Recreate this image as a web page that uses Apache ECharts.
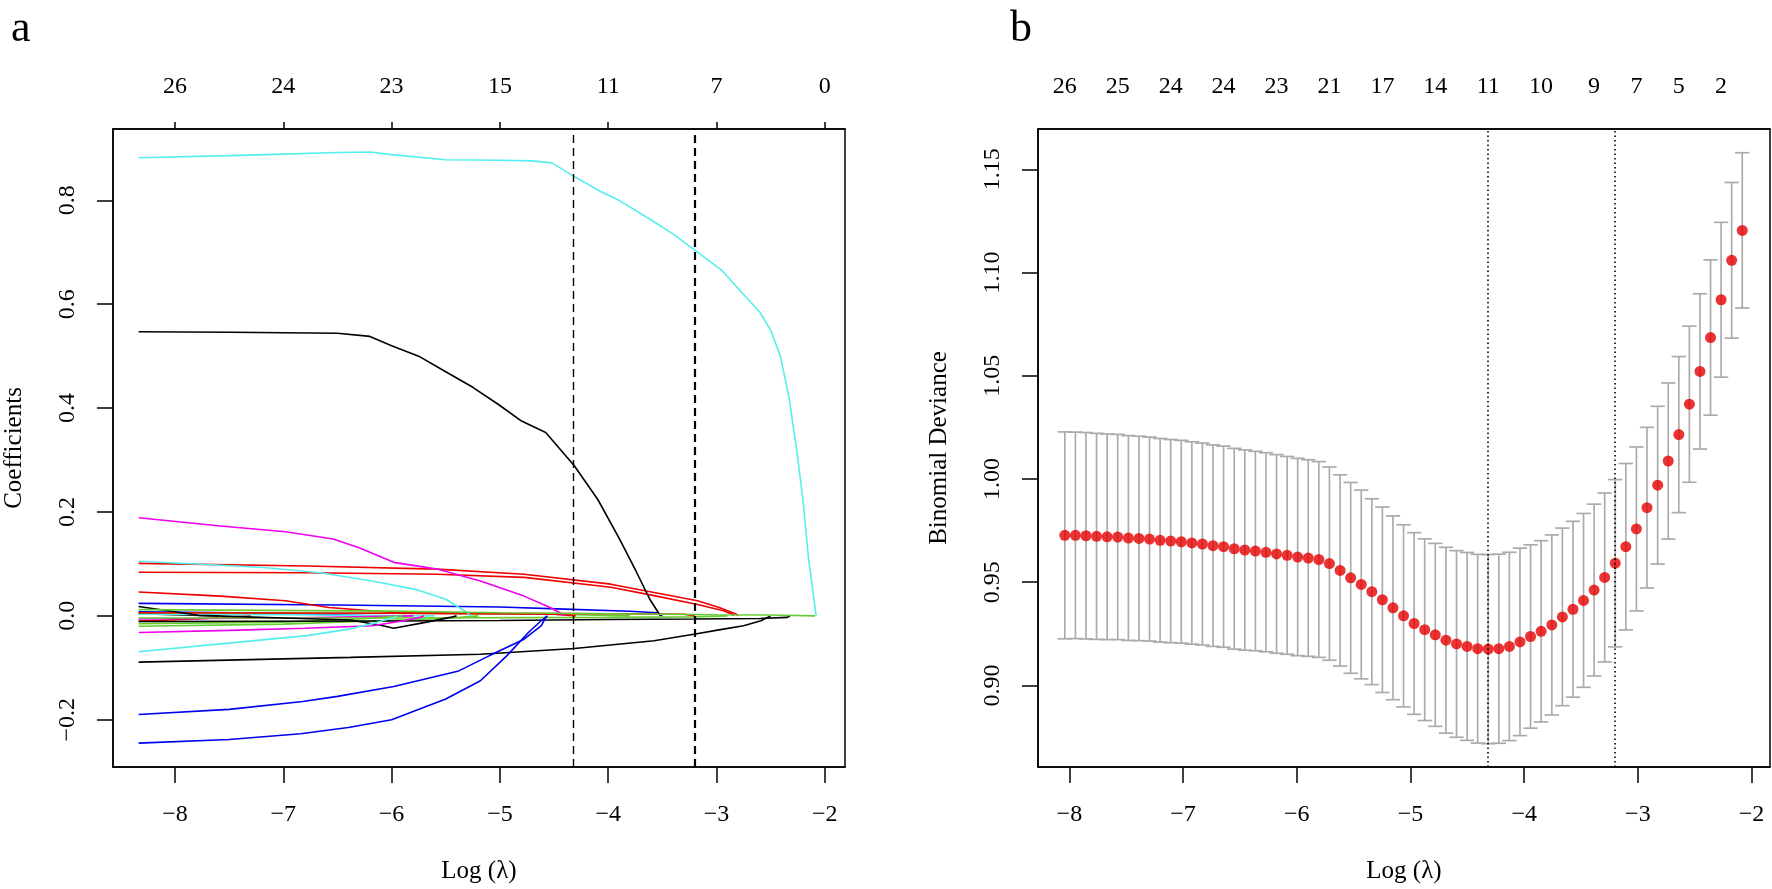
<!DOCTYPE html>
<html><head><meta charset="utf-8">
<script src="https://cdn.jsdelivr.net/npm/echarts@6/dist/echarts.min.js"></script>
<style>html,body{margin:0;padding:0;background:#fff}#c{width:1772px;height:889px}</style>
</head><body><div id="c"></div>
<script>
// ---------- Panel a: LASSO coefficient paths, points are [log(lambda), coefficient] ----------
const pathCyanTop = [[-8.336,0.882],[-7.5,0.886],[-7,0.889],[-6.5,0.892],[-6.2,0.893],[-6,0.888],[-5.5,0.878],[-5,0.877],[-4.7,0.876],[-4.52,0.872],[-4.316,0.846],[-4.07,0.817],[-3.9,0.80],[-3.61,0.763],[-3.4,0.735],[-3.2,0.704],[-2.95,0.665],[-2.72,0.612],[-2.6,0.585],[-2.5,0.55],[-2.41,0.50],[-2.33,0.42],[-2.26,0.32],[-2.2,0.22],[-2.15,0.11],[-2.08,0]];
const pathBlackBig = [[-8.336,0.547],[-7.5,0.546],[-7,0.545],[-6.5,0.544],[-6.2,0.538],[-6,0.52],[-5.75,0.50],[-5.5,0.47],[-5.25,0.44],[-5,0.405],[-4.8,0.375],[-4.577,0.353],[-4.313,0.289],[-4.096,0.224],[-3.896,0.148],[-3.736,0.083],[-3.616,0.032],[-3.536,0.006],[-3.52,0]];
const pathMagentaTop = [[-8.336,0.189],[-7.58,0.173],[-6.98,0.162],[-6.54,0.148],[-6.3,0.131],[-5.98,0.103],[-5.58,0.090],[-5.18,0.067],[-4.777,0.038],[-4.537,0.016],[-4.42,0.003],[-4.4,0]];
const pathCyan2 = [[-8.336,0.105],[-7.62,0.098],[-7.18,0.093],[-6.66,0.083],[-6.18,0.067],[-5.78,0.051],[-5.5,0.032],[-5.3,0.006],[-5.27,0]];
const pathRed1 = [[-8.336,0.101],[-6.78,0.096],[-5.58,0.090],[-4.777,0.080],[-3.976,0.061],[-3.576,0.045],[-3.175,0.029],[-2.975,0.016],[-2.815,0.003],[-2.8,0]];
const pathRed2 = [[-8.336,0.084],[-6.78,0.083],[-5.58,0.080],[-4.777,0.074],[-3.976,0.055],[-3.576,0.039],[-3.175,0.022],[-2.935,0.010],[-2.855,0.003],[-2.84,0]];
const pathRed3 = [[-8.336,0.046],[-7.58,0.038],[-6.98,0.029],[-6.58,0.016],[-5.98,0.0064],[-5,0.005],[-4,0.004],[-3.3,0.003],[-3.2,0]];
const pathBlue3 = [[-8.336,0.024],[-6.5,0.021],[-5,0.017],[-4.4,0.013],[-3.8,0.009],[-3.55,0.006],[-3.5,0]];
const pathBlackDip = [[-8.336,0.018],[-7.78,0.001],[-7,-0.004],[-6.38,-0.008],[-6.1,-0.018],[-5.98,-0.024],[-5.7,-0.013],[-5.46,-0.003],[-5.4,0]];
const pathBlackFlat = [[-8.336,-0.011],[-6,-0.010],[-5,-0.009],[-4,-0.007],[-3.2,-0.006],[-2.6,-0.005],[-2.35,-0.003],[-2.32,0]];
const pathMagentaLow = [[-8.336,-0.032],[-7.5,-0.028],[-6.8,-0.024],[-6.18,-0.019],[-5.9,-0.01],[-5.74,-0.003],[-5.7,0]];
const pathCyanLow = [[-8.336,-0.069],[-7.58,-0.054],[-6.78,-0.038],[-6.38,-0.025],[-6.14,-0.013],[-5.98,-0.003],[-5.95,0]];
const pathBlackLong = [[-8.336,-0.089],[-6.38,-0.080],[-5.18,-0.074],[-4.313,-0.063],[-3.576,-0.048],[-3.196,-0.035],[-2.95,-0.026],[-2.75,-0.019],[-2.59,-0.0096],[-2.5,0]];
const pathBlue1 = [[-8.336,-0.190],[-7.5,-0.180],[-6.82,-0.165],[-6.5,-0.155],[-5.98,-0.136],[-5.38,-0.106],[-5.1,-0.077],[-4.777,-0.045],[-4.617,-0.019],[-4.577,-0.003],[-4.57,0]];
const pathBlue2 = [[-8.336,-0.245],[-7.5,-0.238],[-6.84,-0.227],[-6.4,-0.215],[-6,-0.200],[-5.5,-0.160],[-5.18,-0.125],[-4.937,-0.077],[-4.737,-0.032],[-4.617,-0.009],[-4.56,0]];
const pathGreen1 = [[-8.336,0.012],[-6,0.009],[-5,0.006],[-4,0.004],[-3,0.002],[-2.5,0.0015],[-2.09,0]];
const pathGreen6 = [[-8.336,-0.004],[-6,-0.004],[-4,-0.003],[-3.2,-0.002],[-2.9,0]];
const pathGreen2 = [[-8.336,-0.020],[-7,-0.016],[-6.5,-0.012],[-5.5,-0.005],[-5.2,0]];
const pathGreen3 = [[-8.336,-0.015],[-7,-0.012],[-6.3,-0.006],[-5.9,0]];
const pathGreen4 = [[-8.336,0.006],[-6,0.005],[-4.5,0.003],[-3.8,0]];
const pathBlue4 = [[-8.336,0.008],[-7,0.005],[-6.2,0]];
const pathRed4 = [[-8.336,0.006],[-6,0.005],[-4.5,0.003],[-4.3,0]];
const pathRed5 = [[-8.336,-0.010],[-7.8,-0.006],[-7.3,0]];
const pathMagenta3 = [[-8.336,-0.006],[-7,-0.004],[-5.8,0]];
const pathCyan3 = [[-8.336,0.003],[-7,0.002],[-5.6,0]];
const pathBlack5 = [[-8.336,0.004],[-7.6,0]];

const coefPaths = [pathRed5, pathBlack5, pathBlue4, pathCyan3, pathMagenta3, pathGreen3, pathGreen2, pathGreen4, pathRed4, pathGreen6,
  pathBlackFlat, pathBlackDip, pathMagentaLow, pathCyanLow, pathBlue3, pathRed3, pathRed2, pathRed1, pathCyan2, pathMagentaTop,
  pathBlackLong, pathBlue1, pathBlue2, pathBlackBig, pathGreen1, pathCyanTop];
const coefColors = ['#EE0000','#000000','#0000EE','#55EEEE','#EE00EE','#66CC33','#66CC33','#66CC33','#EE0000','#66CC33',
  '#000000','#000000','#EE00EE','#55EEEE','#0000EE','#EE0000','#EE0000','#EE0000','#55EEEE','#EE00EE',
  '#000000','#0000EE','#0000EE','#000000','#66CC33','#55EEEE'];

const axisTicksA = [-8,-7,-6,-5,-4,-3,-2];
const topLabelsA = ['26','24','23','15','11','7','0'];
const yTicksA = [-0.2,0,0.2,0.4,0.6,0.8];

// ---------- Panel b: cross-validation curve ----------
const cvLogLambda = [-8.040,-7.947,-7.854,-7.761,-7.668,-7.575,-7.481,-7.388,-7.295,-7.202,
 -7.109,-7.016,-6.923,-6.830,-6.737,-6.644,-6.550,-6.457,-6.364,-6.271,
 -6.178,-6.085,-5.992,-5.899,-5.806,-5.713,-5.619,-5.526,-5.433,-5.340,
 -5.247,-5.154,-5.061,-4.968,-4.875,-4.782,-4.688,-4.595,-4.502,-4.409,
 -4.316,-4.223,-4.130,-4.037,-3.944,-3.851,-3.757,-3.664,-3.571,-3.478,
 -3.385,-3.292,-3.199,-3.106,-3.013,-2.920,-2.826,-2.733,-2.640,-2.547,
 -2.454,-2.361,-2.268,-2.175,-2.082];
const cvDeviance = [0.9727,0.9727,0.9725,0.9722,0.9720,0.9719,0.9714,0.9712,0.9709,0.9703,
 0.9699,0.9696,0.9690,0.9685,0.9677,0.9672,0.9662,0.9656,0.9651,0.9645,
 0.9637,0.9630,0.9622,0.9617,0.9610,0.9590,0.9557,0.9521,0.9489,0.9454,
 0.9415,0.9376,0.9337,0.9300,0.9270,0.9245,0.9219,0.9201,0.9189,0.9178,
 0.9176,0.9178,0.9189,0.9211,0.9237,0.9262,0.9293,0.9332,0.9369,0.9412,
 0.9462,0.9523,0.9592,0.9672,0.9758,0.9861,0.9970,1.0087,1.0215,1.0362,
 1.0521,1.0685,1.0868,1.1059,1.1204];
const cvSE = [0.0501,0.0500,0.0500,0.0499,0.0498,0.0497,0.0496,0.0495,0.0494,0.0493,
 0.0492,0.0491,0.0490,0.0489,0.0488,0.0487,0.0486,0.0485,0.0483,0.0482,
 0.0481,0.0479,0.0478,0.0476,0.0474,0.0468,0.0463,0.0462,0.0457,0.0450,
 0.0449,0.0445,0.0441,0.0440,0.0440,0.0443,0.0450,0.0452,0.0455,0.0457,
 0.0458,0.0458,0.0456,0.0454,0.0444,0.0439,0.0436,0.0430,0.0426,0.0421,
 0.0416,0.0409,0.0405,0.0403,0.0397,0.0389,0.0382,0.0378,0.0378,0.0378,
 0.0376,0.0376,0.0375,0.0377,0.0376];
const topLabelIdxB = [0,5,10,15,20,25,30,35,40,45,50,54,58,62];
const topLabelsB = ['26','25','24','24','23','21','17','14','11','10','9','7','5','2'];
const axisTicksB = [-8,-7,-6,-5,-4,-3,-2];
const yTicksB = [0.90,0.95,1.00,1.05,1.10,1.15];
const idxLambdaMin = 40, idx1se = 52;

// ---------- chart ----------
const FONT = 'Liberation Serif';
const minus = s => String(s).replace('-', '\u2212');
const tickFont = {fontFamily: FONT, fontSize: 24, color: '#000'};
const chart = echarts.init(document.getElementById('c'), null, {renderer: 'canvas'});
const lamMin = cvLogLambda[idxLambdaMin], lam1se = cvLogLambda[idx1se];
const topValsB = topLabelIdxB.map(i => cvLogLambda[i]);
const capHalf = 0.063;

function nearestLabel(v, vals, labels) {
  let best = 0, bd = Infinity;
  vals.forEach((x, i) => { const d = Math.abs(x - v); if (d < bd) { bd = d; best = i; } });
  return labels[best];
}

const series = coefPaths.map((p, i) => ({
  type: 'line', xAxisIndex: 0, yAxisIndex: 0, data: p, showSymbol: false, symbol: 'none',
  lineStyle: {width: 1.6, color: coefColors[i]}, itemStyle: {color: coefColors[i]}, silent: true, z: 2
}));
series.push({
  type: 'line', xAxisIndex: 0, yAxisIndex: 0, data: [], silent: true, z: 3,
  markLine: {symbol: ['none','none'], silent: true, label: {show: false},
    lineStyle: {color: '#000', type: [8, 5]},
    data: [{xAxis: lamMin, lineStyle: {width: 1.4}}, {xAxis: lam1se, lineStyle: {width: 2.2}}]}
});
series.push({
  type: 'custom', xAxisIndex: 2, yAxisIndex: 1, z: 2, silent: true,
  data: cvLogLambda.map((x, i) => [x, cvDeviance[i] - cvSE[i], cvDeviance[i] + cvSE[i]]),
  encode: {x: 0, y: [1, 2]},
  renderItem: function (params, api) {
    const x = api.value(0), lo = api.value(1), hi = api.value(2);
    const a = api.coord([x, lo]), b = api.coord([x, hi]);
    const hl = api.coord([x - capHalf, hi]), hr = api.coord([x + capHalf, hi]);
    const ll = api.coord([x - capHalf, lo]), lr = api.coord([x + capHalf, lo]);
    const st = {stroke: '#ABABAB', lineWidth: 1.7};
    return {type: 'group', children: [
      {type: 'line', shape: {x1: a[0], y1: a[1], x2: b[0], y2: b[1]}, style: st},
      {type: 'line', shape: {x1: hl[0], y1: hl[1], x2: hr[0], y2: hr[1]}, style: st},
      {type: 'line', shape: {x1: ll[0], y1: ll[1], x2: lr[0], y2: lr[1]}, style: st}
    ]};
  }
});
series.push({
  type: 'scatter', xAxisIndex: 2, yAxisIndex: 1, z: 4, silent: true,
  data: cvLogLambda.map((x, i) => [x, cvDeviance[i]]),
  symbol: 'circle', symbolSize: 11, itemStyle: {color: '#E60000'},
  markLine: {symbol: ['none','none'], silent: true, label: {show: false},
    lineStyle: {color: '#000', type: [1.5, 3], width: 1.6},
    data: [{xAxis: lamMin}, {xAxis: lam1se}]}
});

const baseX = {
  type: 'value', splitLine: {show: false},
  axisLine: {show: true, onZero: false, lineStyle: {color: '#000', width: 1.5}}
};

const option = {
  animation: false,
  backgroundColor: '#fff',
  title: [
    {text: 'a', left: 6, top: 2, textStyle: {fontFamily: FONT, fontSize: 44, fontWeight: 'normal', color: '#000'}},
    {text: 'b', left: 1005, top: 2, textStyle: {fontFamily: FONT, fontSize: 44, fontWeight: 'normal', color: '#000'}}
  ],
  grid: [
    {left: 113, top: 129, width: 732, height: 639, show: true, borderColor: '#000', borderWidth: 1.5, containLabel: false},
    {left: 1038, top: 129, width: 732, height: 639, show: true, borderColor: '#000', borderWidth: 1.5, containLabel: false}
  ],
  xAxis: [
    Object.assign({}, baseX, {gridIndex: 0, position: 'bottom', min: -8.5725, max: -1.8135,
      name: 'Log (\u03bb)', nameLocation: 'middle', nameGap: 92,
      nameTextStyle: {fontFamily: FONT, fontSize: 25, color: '#000'},
      axisTick: {show: true, inside: false, length: 16, lineStyle: {color: '#000', width: 1.5}, customValues: axisTicksA},
      axisLabel: Object.assign({show: true, margin: 36, customValues: axisTicksA, formatter: v => minus(v)}, tickFont)}),
    Object.assign({}, baseX, {gridIndex: 0, position: 'top', min: -8.5725, max: -1.8135,
      axisTick: {show: true, inside: false, length: 7, lineStyle: {color: '#000', width: 1.5}, customValues: axisTicksA},
      axisLabel: Object.assign({show: true, margin: 30, customValues: axisTicksA,
        formatter: v => nearestLabel(v, axisTicksA, topLabelsA)}, tickFont)}),
    Object.assign({}, baseX, {gridIndex: 1, position: 'bottom', min: -8.276, max: -1.838,
      name: 'Log (\u03bb)', nameLocation: 'middle', nameGap: 92,
      nameTextStyle: {fontFamily: FONT, fontSize: 25, color: '#000'},
      axisTick: {show: true, inside: false, length: 16, lineStyle: {color: '#000', width: 1.5}, customValues: axisTicksB},
      axisLabel: Object.assign({show: true, margin: 36, customValues: axisTicksB, formatter: v => minus(v)}, tickFont)}),
    Object.assign({}, baseX, {gridIndex: 1, position: 'top', min: -8.276, max: -1.838,
      axisTick: {show: false},
      axisLabel: Object.assign({show: true, margin: 30, customValues: topValsB,
        formatter: v => nearestLabel(v, topValsB, topLabelsB)}, tickFont)})
  ],
  yAxis: [
    {type: 'value', gridIndex: 0, min: -0.291, max: 0.9373, splitLine: {show: false},
      axisLine: {show: true, onZero: false, lineStyle: {color: '#000', width: 1.5}},
      axisTick: {show: true, length: 16, lineStyle: {color: '#000', width: 1.5}, customValues: yTicksA},
      axisLabel: Object.assign({show: true, rotate: 90, margin: 33, customValues: yTicksA,
        formatter: v => minus(v.toFixed(1))}, tickFont),
      name: 'Coefficients', nameLocation: 'middle', nameRotate: 90, nameGap: 86,
      nameTextStyle: {fontFamily: FONT, fontSize: 25, color: '#000'}},
    {type: 'value', gridIndex: 1, min: 0.8605, max: 1.1695, splitLine: {show: false},
      axisLine: {show: true, onZero: false, lineStyle: {color: '#000', width: 1.5}},
      axisTick: {show: true, length: 16, lineStyle: {color: '#000', width: 1.5}, customValues: yTicksB},
      axisLabel: Object.assign({show: true, rotate: 90, margin: 33, customValues: yTicksB,
        formatter: v => v.toFixed(2)}, tickFont),
      name: 'Binomial Deviance', nameLocation: 'middle', nameRotate: 90, nameGap: 86,
      nameTextStyle: {fontFamily: FONT, fontSize: 25, color: '#000'}}
  ],
  series: series
};
chart.setOption(option);
</script>
</body></html>
